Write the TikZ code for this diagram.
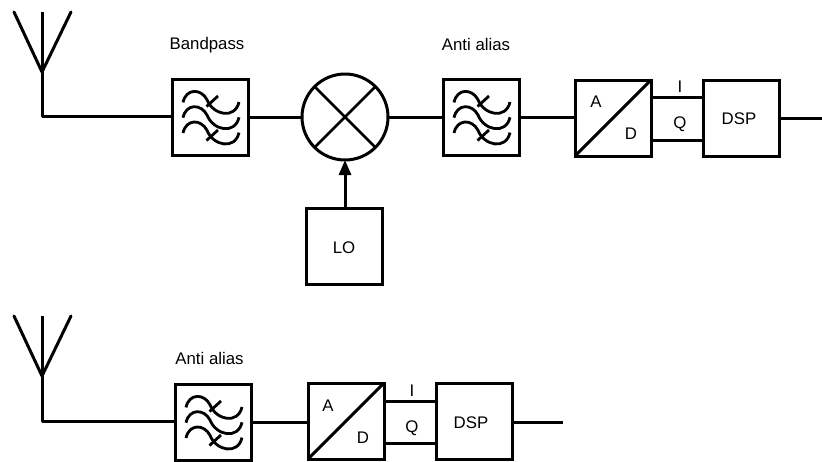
\documentclass[tikz,border=0pt]{standalone}
\usepackage{fontspec}
\setmainfont{Liberation Sans}
\usetikzlibrary{arrows.meta}
\tikzset{
  x=1pt,y=-1pt,
  wire/.style={line width=3pt,draw=black},
  thin wire/.style={line width=2.5pt,draw=black},
  blockbox/.style={draw=black,line width=3pt,minimum size=76pt,inner sep=0pt,outer sep=0pt,fill=white},
  lab/.style={font=\fontsize{16.8pt}{19pt}\selectfont,inner sep=0pt,text=black},
  filtersym/.pic={
    \foreach \dy in {-15.3,0,15.3}{
      \draw[line width=2.8pt,line cap=butt] (-27,\dy+0.7) .. controls (-24,\dy-13.5) and (-9,\dy-13.5) .. (-3,\dy-2)
        .. controls (3,\dy+13.5) and (25,\dy+18) .. (29,\dy+0.3);
    }
    \draw[line width=2.8pt] (-3.5,-10.5) -- (8,-21);
    \draw[line width=2.8pt] (-3.5,23.5) -- (8,13);
  }
}
\begin{document}
\begin{tikzpicture}
\useasboundingbox (0,0) rectangle (822,461);
% top chain
\coordinate (tip1) at (42,72);
\coordinate (armL1) at (14,12);
\coordinate (armR1) at (71,12);
\coordinate (top1) at (42,12);
\coordinate (corner1) at (42,116);
\node[blockbox] (bp) at (210,117) {};
\node[draw=black,line width=3pt,circle,minimum size=86pt,inner sep=0pt,outer sep=0pt] (mix) at (345,117) {};
\node[blockbox] (aa) at (481,117) {};
\node[blockbox] (ad) at (613,118) {};
\node[blockbox] (dsp) at (741,118) {};
\node[blockbox] (lo) at (344,246) {};
\coordinate (out1) at (822,118);
\draw[wire,line cap=round,line join=round] (armL1) -- (tip1) -- (armR1);
\draw[wire,line join=round] (top1) -- (corner1) -- (bp.west |- corner1);
\draw[wire] (bp.east) -- (mix.west);
\draw[wire] (mix.east) -- (aa.west);
\draw[wire] (aa.east) -- (aa.east -| ad.west);
\draw[wire] (dsp.east) -- (out1);
\draw[wire] (ad.east |- 0,97) -- (dsp.west |- 0,97);
\draw[wire] (ad.east |- 0,140) -- (dsp.west |- 0,140);
\draw[wire] (ad.north east) -- (ad.south west);
\draw[wire,-{Triangle[length=15pt,width=12pt]}] (lo.north -| mix.south) -- (mix.south);
\draw[thin wire] (mix.north west) -- (mix.south east);
\draw[thin wire] (mix.north east) -- (mix.south west);
\pic at (bp.center) {filtersym};
\pic at (aa.center) {filtersym};
\node[lab] at (207,45) {Bandpass};
\node[lab] at (476,44) {Anti alias};
\node[lab] at (596,102) {A};
\node[lab] at (631,134) {D};
\node[lab] at (680,87) {I};
\node[lab] at (680,124) {Q};
\node[lab] at (739,119) {DSP};
\node[lab] at (344,248) {LO};
% bottom chain
\coordinate (tip2) at (42,376);
\coordinate (armL2) at (14,316);
\coordinate (armR2) at (71,316);
\coordinate (top2) at (42,316);
\coordinate (corner2) at (42,421);
\node[blockbox] (aab) at (213,422) {};
\node[blockbox] (adb) at (346,421) {};
\node[blockbox] (dspb) at (474,421) {};
\coordinate (out2) at (563,422);
\draw[wire,line cap=round,line join=round] (armL2) -- (tip2) -- (armR2);
\draw[wire,line join=round] (top2) -- (corner2) -- (aab.west |- corner2);
\draw[wire] (aab.east) -- (aab.east -| adb.west);
\draw[wire] (dspb.east |- out2) -- (out2);
\draw[wire] (adb.east |- 0,401) -- (dspb.west |- 0,401);
\draw[wire] (adb.east |- 0,443) -- (dspb.west |- 0,443);
\draw[wire] (adb.north east) -- (adb.south west);
\pic at (aab.center) {filtersym};
\node[lab] at (209.5,358.5) {Anti alias};
\node[lab] at (328,406) {A};
\node[lab] at (363,438) {D};
\node[lab] at (412,391) {I};
\node[lab] at (412,428) {Q};
\node[lab] at (471,423) {DSP};
\end{tikzpicture}
\end{document}
